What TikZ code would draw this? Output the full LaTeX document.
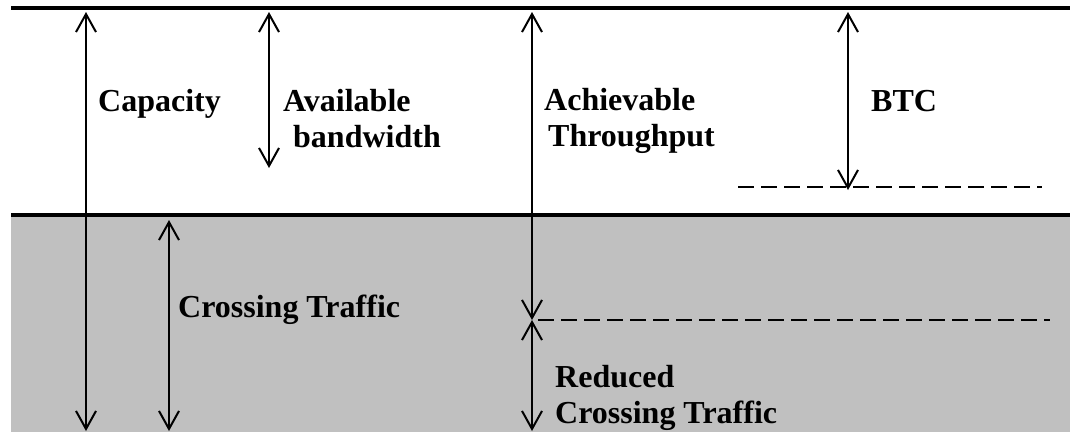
\documentclass[tikz,border=0pt]{standalone}
\usepackage{fontspec}
\setmainfont{Liberation Serif}
\usetikzlibrary{arrows.meta, positioning}

\begin{document}
\begin{tikzpicture}[x=1pt, y=-1pt,
  lbl/.style={anchor=base west, inner sep=0pt, align=left, font=\bfseries\fontsize{32}{36}\selectfont},
  band/.style={line width=3.5pt},
  meas/.style={line width=2pt, {Straight Barb[length=18pt,width=20pt]}-{Straight Barb[length=18pt,width=20pt]}},
  lvl/.style={line width=1.5pt, dash pattern=on 16pt off 7pt}]
\useasboundingbox (0,0) rectangle (1070,432);
% shaded part
\fill[fill={rgb,255:red,192;green,192;blue,192}] (11,215) rectangle (1070,432);
\draw[band] (11,8) -- (1070,8);
\draw[band] (11,215) -- (1070,215);

% arrow ends
\coordinate (capT) at (86,12);
\coordinate (capB) at (86,431);
\coordinate (avT) at (269,12);
\coordinate (avB) at (269,168);
\coordinate (crT) at (169,220);
\coordinate (crB) at (169,431);
\coordinate (achT) at (532,12);
\coordinate (achB) at (532,320);
\coordinate (redB) at (532,431);
\coordinate (btcT) at (848,12);
\coordinate (btcB) at (848,190);
\coordinate (lvlA) at (738,187);
\coordinate (lvlAe) at (1042,187);
\coordinate (lvlB) at (538,320);
\coordinate (lvlBe) at (1050,320);

% labels (base = last line)
\node (cap) at (98,111) [lbl] {Capacity};
\node (av) at (283,147) [lbl] {Available\\\hspace*{10pt}bandwidth};
\node (ach) at (544,146) [lbl] {Achievable\\\hspace*{4pt}Throughput};
\node (btc) at (871,111) [lbl] {BTC};
\node (cr) at (178,317) [lbl] {Crossing Traffic};
\node (red) at (555,423) [lbl] {Reduced\\Crossing Traffic};

\draw[meas] (capT) -- (capB);
\draw[meas] (avT) -- (avB);
\draw[meas] (crT) -- (crB);
\draw[meas] (achT) -- (achB);
\draw[meas] (achB) -- (redB);
\draw[meas] (btcT) -- (btcB);
\draw[lvl] (lvlA) -- (lvlAe);
\draw[lvl] (lvlB) -- (lvlBe);
\end{tikzpicture}
\end{document}
